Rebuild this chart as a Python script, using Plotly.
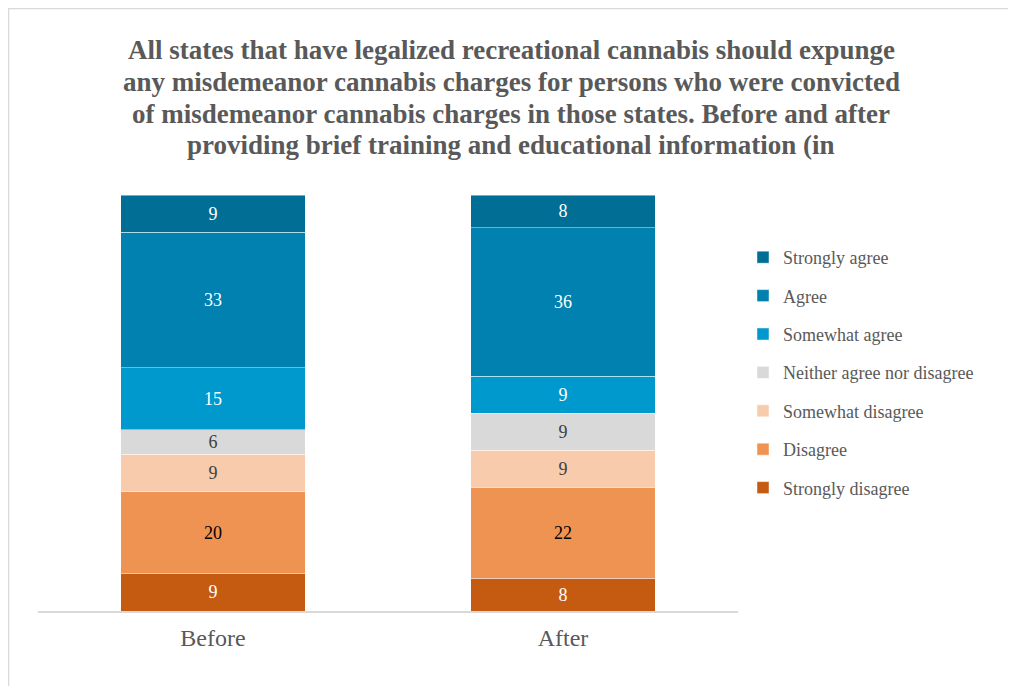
import plotly.graph_objects as go

categories = ["Before", "After"]
levels = ["Strongly disagree", "Disagree", "Somewhat disagree",
          "Neither agree nor disagree", "Somewhat agree", "Agree", "Strongly agree"]
strongly_disagree = [9, 8]
disagree = [20, 22]
somewhat_disagree = [9, 9]
neither = [6, 9]
somewhat_agree = [15, 9]
agree = [33, 36]
strongly_agree = [9, 8]

title_lines = [
    "All states that have legalized recreational cannabis should expunge",
    "any misdemeanor cannabis charges for persons who were convicted",
    "of misdemeanor cannabis charges in those states. Before and after",
    "providing brief training and educational information (in",
]

series = [strongly_disagree, disagree, somewhat_disagree, neither,
          somewhat_agree, agree, strongly_agree]
colors = ["#C55A11", "#EF9353", "#F8CBAD", "#D9D9D9", "#0099CD", "#0081AF", "#006E95"]
text_colors = ["#FFFFFF", "#000000", "#404040", "#404040", "#FFFFFF", "#FFFFFF", "#FFFFFF"]

FONT = "Liberation Serif, Times New Roman, serif"

fig = go.Figure()
n = len(levels)
for i, (name, vals, col, tcol) in enumerate(zip(levels, series, colors, text_colors)):
    fig.add_trace(go.Bar(
        x=categories, y=vals, name=name, legendgroup=name,
        legendrank=(n - i) * 10,
        marker=dict(color=col, line=dict(color="rgba(255,255,255,0.45)", width=1)),
        text=[str(v) for v in vals], textposition="inside",
        insidetextanchor="middle", textangle=0, constraintext="none",
        textfont=dict(family=FONT, size=18, color=tcol),
        hoverinfo="skip",
    ))

# page body has an 8px margin; reference pixel coords are converted
OFF = 8
W, H = 1016, 686
L, R, T, B = 38 - OFF, 738 - OFF, 195 - OFF, 611 - OFF

def px_x(p):
    return (p - OFF - L) / (R - L)

def px_y(p):
    return (B - (p - OFF)) / (B - T)

title_y = [50, 82, 113.5, 145]
annotations = [dict(
    xref="paper", yref="paper", x=px_x(511), y=px_y(yy),
    xanchor="center", yanchor="middle", showarrow=False,
    text="<b>" + line + "</b>",
    font=dict(family=FONT, size=27, color="#595959"),
) for line, yy in zip(title_lines, title_y)]

fig.update_layout(
    width=W, height=H,
    barmode="stack", barnorm="percent", bargap=0.474,
    margin=dict(l=L, r=W - R, t=T, b=H - B, pad=0),
    paper_bgcolor="white", plot_bgcolor="white",
    showlegend=True,
    legend=dict(
        x=px_x(743), y=px_y(239), xanchor="left", yanchor="top",
        traceorder="grouped", tracegroupgap=12,
        font=dict(family=FONT, size=18, color="#595959"),
        itemwidth=30, bgcolor="rgba(0,0,0,0)",
    ),
    xaxis=dict(
        showline=True, linecolor="#D9D9D9", linewidth=1.5,
        showgrid=False, ticks="", ticklabelstandoff=4,
        tickfont=dict(family=FONT, size=24, color="#595959"),
    ),
    yaxis=dict(range=[0, 100], visible=False, showgrid=False),
    annotations=annotations,
    shapes=[dict(
        type="rect", xref="paper", yref="paper",
        x0=px_x(8.5), x1=px_x(1040), y0=px_y(720), y1=px_y(8.5),
        line=dict(color="#D9D9D9", width=1.5), fillcolor="rgba(0,0,0,0)",
        layer="below",
    )],
)

fig.write_html("out.html")
